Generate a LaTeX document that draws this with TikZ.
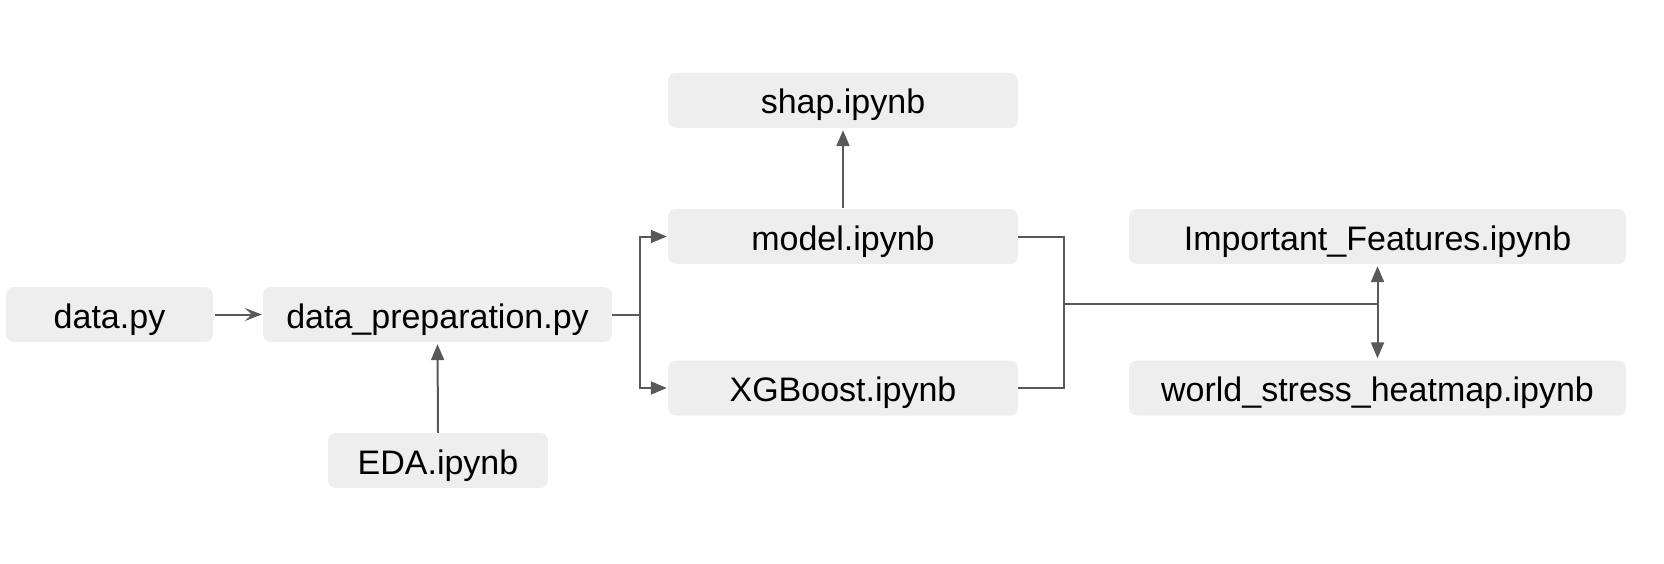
\documentclass[tikz,border=0pt]{standalone}
\usepackage{fontspec}
\setmainfont{Liberation Sans}
\usetikzlibrary{arrows.meta}
\definecolor{boxgray}{HTML}{EEEEEE}
\definecolor{linegray}{HTML}{595959}
\begin{document}
\begin{tikzpicture}[x=1pt,y=-1pt,
  filebox/.style={fill=boxgray, rounded corners=8pt, inner sep=0pt,
    minimum height=55pt, text height=27pt, text depth=0pt,
    font=\fontsize{34}{40}\selectfont, text=black},
  conn/.style={draw=linegray, line width=2pt},
  arr/.style={conn, -{Triangle[length=16pt,width=13pt]}},
  openarr/.style={conn, -{Stealth[length=17pt,width=13pt,inset=7pt]}}]
\useasboundingbox (0,0) rectangle (1664,564);
\node[filebox, minimum width=207pt] (data) at (109.5,314.5) {data.py};
\node[filebox, minimum width=349pt] (prep) at (437.5,314.5) {data\_preparation.py};
\node[filebox, minimum width=220pt] (eda) at (438,460.5) {EDA.ipynb};
\node[filebox, minimum width=350pt] (shap) at (843,100.5) {shap.ipynb};
\node[filebox, minimum width=350pt] (model) at (843,236.5) {model.ipynb};
\node[filebox, minimum width=350pt] (xgb) at (843,388) {XGBoost.ipynb};
\node[filebox, minimum width=497pt] (imp) at (1377.5,236.5) {Important\_Features.ipynb};
\node[filebox, minimum width=497pt] (world) at (1377.5,388) {world\_stress\_heatmap.ipynb};
\coordinate (branch) at (640,314.5);
\coordinate (join) at (1064,304);
\coordinate (split) at (1377.5,304);
\draw[openarr, shorten <=2pt, shorten >=1pt] (data.east) -- (prep.west);
\draw[conn] (prep.east) -- (branch);
\draw[arr, shorten >=1pt] (branch) |- (model.west);
\draw[arr, shorten >=1pt] (branch) |- (xgb.west);
\draw[arr, shorten >=2pt] (eda.north) -- (prep.south);
\draw[arr, shorten >=2pt, shorten <=1pt] (model.north) -- (shap.south);
\draw[conn] (model.east) -| (join);
\draw[conn] (xgb.east) -| (join);
\draw[conn] (join) -- (split);
\draw[arr, shorten >=2pt] (split) -- (imp.south);
\draw[arr, shorten >=2pt] (split) -- (world.north);
\end{tikzpicture}
\end{document}
